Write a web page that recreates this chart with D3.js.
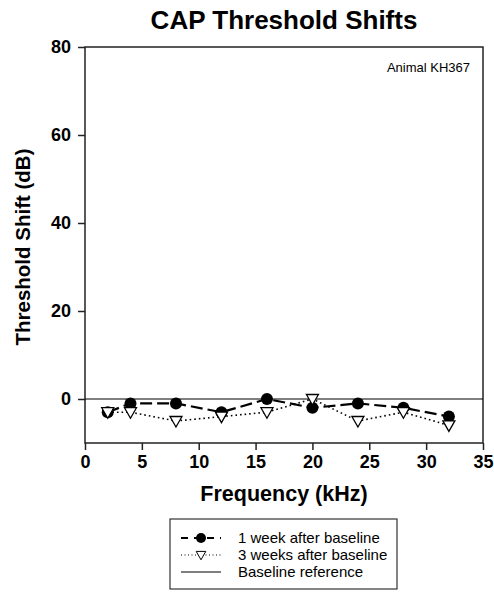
<!DOCTYPE html>
<html>
<head>
<meta charset="utf-8">
<script src="https://cdn.jsdelivr.net/npm/d3@7"></script>
<style>
  body { margin: 0; background: #fff; }
  text { font-family: Arial, "Liberation Sans", sans-serif; }
</style>
</head>
<body>
<svg width="494" height="600"></svg>
<script>
window.onload = function(e){

// data
var freqs = [2, 4, 8, 12, 16, 20, 24, 28, 32];
var week1 = [-3, -1, -1, -3, 0, -2, -1, -2, -4];
var week3 = [-3, -3, -5, -4, -3, 0, -5, -3, -6];
var xTicks = [0, 5, 10, 15, 20, 25, 30, 35];
var yTicks = [0, 20, 40, 60, 80];
var legendLabels = ["1 week after baseline", "3 weeks after baseline", "Baseline reference"];

var svg = d3.select("svg"),
    left = 85, right = 483, top = 47, bottom = 443;

var x = d3.scaleLinear().domain([0, 35]).range([left, right]);
var y = d3.scaleLinear().domain([-10, 80]).range([bottom, top]);

// title
svg.append("text")
    .attr("x", 284).attr("y", 29)
    .attr("text-anchor", "middle")
    .attr("font-size", 26).attr("font-weight", "bold")
    .text("CAP Threshold Shifts");

// frame
svg.append("rect")
    .attr("x", left).attr("y", top)
    .attr("width", right - left).attr("height", bottom - top)
    .attr("fill", "none").attr("stroke", "#222").attr("stroke-width", 1.5);

// axes
var xAxis = svg.append("g")
    .attr("transform", "translate(0," + bottom + ")")
    .call(d3.axisBottom(x).tickValues(xTicks).tickSize(7).tickPadding(5));
var yAxis = svg.append("g")
    .attr("transform", "translate(" + left + ",0)")
    .call(d3.axisLeft(y).tickValues(yTicks).tickSize(7).tickPadding(7));

[xAxis, yAxis].forEach(function(a){
  a.select(".domain").remove();
  a.selectAll("line").attr("stroke", "#222").attr("stroke-width", 1.5);
  a.selectAll("text")
      .attr("font-size", 18).attr("font-weight", "bold")
      .attr("fill", "#000")
      .style("font-family", "Arial, 'Liberation Sans', sans-serif");
});

// axis titles
svg.append("text")
    .attr("x", 284).attr("y", 501)
    .attr("text-anchor", "middle")
    .attr("font-size", 21.5).attr("font-weight", "bold")
    .text("Frequency (kHz)");
svg.append("text")
    .attr("transform", "translate(30,247) rotate(-90)")
    .attr("text-anchor", "middle")
    .attr("font-size", 20.5).attr("font-weight", "bold")
    .text("Threshold Shift (dB)");

// annotation
svg.append("text")
    .attr("x", 470).attr("y", 72)
    .attr("text-anchor", "end")
    .attr("font-size", 13)
    .text("Animal KH367");

// baseline reference
svg.append("line")
    .attr("x1", left).attr("x2", right)
    .attr("y1", y(0)).attr("y2", y(0))
    .attr("stroke", "#000").attr("stroke-width", 1.2);

var line = d3.line()
    .x(function(d) { return x(d[0]); })
    .y(function(d) { return y(d[1]); });

var data1 = freqs.map(function(f, i) { return [f, week1[i]]; });
var data3 = freqs.map(function(f, i) { return [f, week3[i]]; });

function triPath(cx, cy, s) {
  return "M" + (cx - s) + "," + (cy - s * 0.75) +
         "L" + (cx + s) + "," + (cy - s * 0.75) +
         "L" + cx + "," + (cy + s * 1.0) + "Z";
}

// 3 weeks (dotted, open triangles)
svg.append("path")
    .datum(data3)
    .attr("d", line)
    .attr("fill", "none").attr("stroke", "#000")
    .attr("stroke-width", 1.6).attr("stroke-dasharray", "1.6,3");

// 1 week (dashed, filled circles)
svg.append("path")
    .datum(data1)
    .attr("d", line)
    .attr("fill", "none").attr("stroke", "#000")
    .attr("stroke-width", 2.2).attr("stroke-dasharray", "12,5");

svg.append("g").selectAll("circle")
    .data(data1)
    .enter().append("circle")
    .attr("cx", function(d) { return x(d[0]); })
    .attr("cy", function(d) { return y(d[1]); })
    .attr("r", 6)
    .attr("fill", "#000");

svg.append("g").selectAll("path")
    .data(data3)
    .enter().append("path")
    .attr("d", function(d) { return triPath(x(d[0]), y(d[1]), 6); })
    .attr("fill", "#fff").attr("stroke", "#000").attr("stroke-width", 1.3);

// legend
var lg = svg.append("g");
lg.append("rect")
    .attr("x", 170).attr("y", 519)
    .attr("width", 227).attr("height", 70)
    .attr("fill", "#fff").attr("stroke", "#333").attr("stroke-width", 1.2);

var rows = [538, 555, 572];
lg.append("line")
    .attr("x1", 181).attr("x2", 221).attr("y1", rows[0]).attr("y2", rows[0])
    .attr("stroke", "#000").attr("stroke-width", 2).attr("stroke-dasharray", "7,6");
lg.append("circle").attr("cx", 201).attr("cy", rows[0]).attr("r", 5).attr("fill", "#000");

lg.append("line")
    .attr("x1", 181).attr("x2", 221).attr("y1", rows[1]).attr("y2", rows[1])
    .attr("stroke", "#000").attr("stroke-width", 1).attr("stroke-dasharray", "1,2.5");
lg.append("path")
    .attr("d", triPath(201, rows[1], 4.8))
    .attr("fill", "#fff").attr("stroke", "#000").attr("stroke-width", 1);

lg.append("line")
    .attr("x1", 181).attr("x2", 221).attr("y1", rows[2]).attr("y2", rows[2])
    .attr("stroke", "#000").attr("stroke-width", 1);

lg.selectAll("text.lab")
    .data(legendLabels)
    .enter().append("text")
    .attr("class", "lab")
    .attr("x", 238)
    .attr("y", function(d, i) { return rows[i] + 5; })
    .attr("font-size", 15)
    .text(function(d) { return d; });

}
</script>
</body>
</html>
